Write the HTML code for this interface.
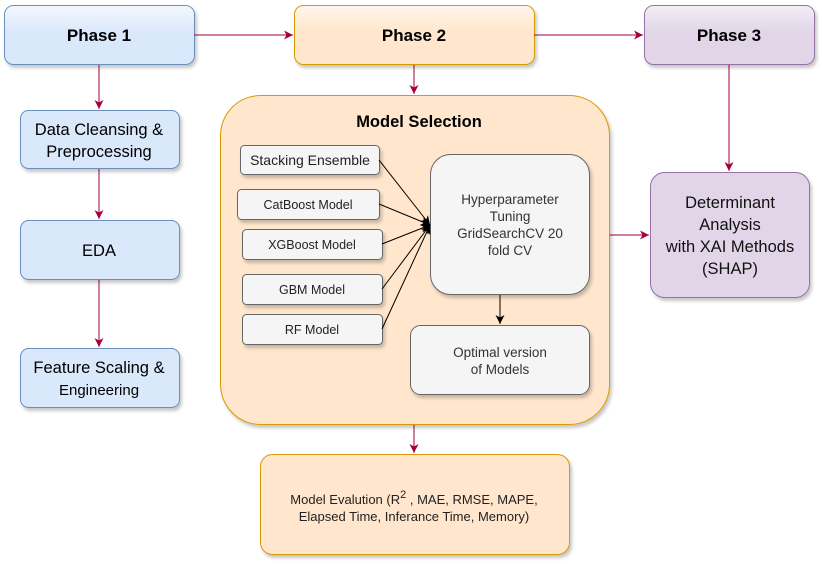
<!DOCTYPE html>
<html><head><meta charset="utf-8"><style>
html,body{margin:0;padding:0;background:#fff;}
svg, svg text{font-family:"Liberation Sans",Arial,Helvetica,sans-serif;}
svg{display:block;}
</style></head><body>
<svg width="822" height="564" viewBox="0 0 822 564" xmlns="http://www.w3.org/2000/svg" font-family="'Liberation Sans', Arial, sans-serif">
<defs>
<filter id="sh" x="-10%" y="-10%" width="130%" height="130%"><feDropShadow dx="2" dy="3" stdDeviation="1.5" flood-color="#000" flood-opacity="0.22"/></filter>
<linearGradient id="gb" x1="0" y1="0" x2="0" y2="1"><stop offset="0" stop-color="#f4f8fe"/><stop offset="0.45" stop-color="#dae8fc"/><stop offset="1" stop-color="#dae8fc"/></linearGradient>
<linearGradient id="go" x1="0" y1="0" x2="0" y2="1"><stop offset="0" stop-color="#fff6ec"/><stop offset="0.45" stop-color="#ffe6cc"/><stop offset="1" stop-color="#ffe6cc"/></linearGradient>
<linearGradient id="gp" x1="0" y1="0" x2="0" y2="1"><stop offset="0" stop-color="#f3eef6"/><stop offset="0.45" stop-color="#e1d5e7"/><stop offset="1" stop-color="#e1d5e7"/></linearGradient>
<marker id="ar" markerWidth="10" markerHeight="10" refX="9" refY="5" orient="auto" markerUnits="userSpaceOnUse"><path d="M0,0.5 L9,5 L0,9.5 L2.5,5 z" fill="#a50040"/></marker>
<marker id="ak" markerWidth="10" markerHeight="10" refX="9" refY="5" orient="auto" markerUnits="userSpaceOnUse"><path d="M0,0.5 L9,5 L0,9.5 L2.5,5 z" fill="#000"/></marker>
</defs>

<rect x="4.5" y="5.5" width="190" height="59" rx="9" fill="url(#gb)" stroke="#6c8ebf" filter="url(#sh)"/>
<text x="99" y="41" text-anchor="middle" font-size="17" font-weight="bold">Phase 1</text>
<rect x="294.5" y="5.5" width="240" height="59" rx="9" fill="url(#go)" stroke="#d79b00" filter="url(#sh)"/>
<text x="414" y="41" text-anchor="middle" font-size="17" font-weight="bold">Phase 2</text>
<rect x="644.5" y="5.5" width="170" height="59" rx="9" fill="url(#gp)" stroke="#9673a6" filter="url(#sh)"/>
<text x="729" y="41" text-anchor="middle" font-size="17" font-weight="bold">Phase 3</text>

<g stroke="#a50040" stroke-width="1" fill="none">
<line x1="194" y1="35" x2="293" y2="35" marker-end="url(#ar)"/>
<line x1="534" y1="35" x2="643" y2="35" marker-end="url(#ar)"/>
<line x1="99" y1="65" x2="99" y2="109" marker-end="url(#ar)"/>
<line x1="99" y1="168" x2="99" y2="219" marker-end="url(#ar)"/>
<line x1="99" y1="279" x2="99" y2="347" marker-end="url(#ar)"/>
<line x1="414" y1="65" x2="414" y2="94" marker-end="url(#ar)"/>
<line x1="729" y1="65" x2="729" y2="171" marker-end="url(#ar)"/>
<line x1="609" y1="235" x2="649" y2="235" marker-end="url(#ar)"/>
<line x1="414" y1="424" x2="414" y2="453" marker-end="url(#ar)"/>
</g>

<rect x="20.5" y="110.5" width="159" height="58" rx="8" fill="#dae8fc" stroke="#6c8ebf" filter="url(#sh)"/>
<text x="99" y="135" text-anchor="middle" font-size="16.5">Data Cleansing &amp;</text>
<text x="99" y="157" text-anchor="middle" font-size="16.5">Preprocessing</text>
<rect x="20.5" y="220.5" width="159" height="59" rx="8" fill="#dae8fc" stroke="#6c8ebf" filter="url(#sh)"/>
<text x="99" y="256" text-anchor="middle" font-size="16.5">EDA</text>
<rect x="20.5" y="348.5" width="159" height="59" rx="8" fill="#dae8fc" stroke="#6c8ebf" filter="url(#sh)"/>
<text x="99" y="373" text-anchor="middle" font-size="16.5">Feature Scaling &amp;</text>
<text x="99" y="395" text-anchor="middle" font-size="15">Engineering</text>

<rect x="220.5" y="95.5" width="389" height="329" rx="40" fill="#ffe6cc" stroke="#d79b00" filter="url(#sh)"/>
<text x="419" y="127" text-anchor="middle" font-size="16.5" font-weight="bold">Model Selection</text>

<g fill="#f5f5f5" stroke="#666" filter="url(#sh)">
<rect x="240.5" y="145.5" width="139" height="29" rx="4"/>
<rect x="237.5" y="189.5" width="142" height="30" rx="4"/>
<rect x="242.5" y="229.5" width="140" height="30" rx="4"/>
<rect x="242.5" y="274.5" width="140" height="30" rx="4"/>
<rect x="242.5" y="314.5" width="140" height="30" rx="4"/>
<rect x="430.5" y="154.5" width="159" height="140" rx="20"/>
<rect x="410.5" y="325.5" width="179" height="69" rx="10"/>
</g>
<g font-size="12.5" text-anchor="middle" fill="#222">
<text x="310" y="165" font-size="14">Stacking Ensemble</text>
<text x="308" y="209">CatBoost Model</text>
<text x="312" y="249">XGBoost Model</text>
<text x="312" y="294">GBM Model</text>
<text x="312" y="334">RF Model</text>
</g>
<g font-size="13.5" text-anchor="middle" fill="#333">
<text x="510" y="204">Hyperparameter</text>
<text x="510" y="221">Tuning</text>
<text x="510" y="238">GridSearchCV 20</text>
<text x="510" y="255">fold CV</text>
<text x="500" y="357">Optimal version</text>
<text x="500" y="374">of Models</text>
</g>
<g stroke="#000" stroke-width="1" fill="none">
<line x1="379" y1="160" x2="430" y2="225" marker-end="url(#ak)"/>
<line x1="379" y1="204" x2="430" y2="225" marker-end="url(#ak)"/>
<line x1="382" y1="244" x2="430" y2="225" marker-end="url(#ak)"/>
<line x1="382" y1="289" x2="430" y2="225" marker-end="url(#ak)"/>
<line x1="382" y1="329" x2="430" y2="225" marker-end="url(#ak)"/>
<line x1="500" y1="295" x2="500" y2="324" marker-end="url(#ak)"/>
</g>

<rect x="650.5" y="172.5" width="159" height="125" rx="14" fill="#e1d5e7" stroke="#9673a6" filter="url(#sh)"/>
<g font-size="16.5" text-anchor="middle" fill="#111">
<text x="730" y="208">Determinant</text>
<text x="730" y="230">Analysis</text>
<text x="730" y="252">with XAI Methods</text>
<text x="730" y="274">(SHAP)</text>
</g>

<rect x="260.5" y="454.5" width="309" height="100" rx="12" fill="#ffe6cc" stroke="#d79b00" filter="url(#sh)"/>
<g font-size="13" text-anchor="middle" fill="#222">
<text x="414" y="504">Model Evalution (R<tspan dy="-6" font-size="11">2</tspan><tspan dy="6"> ,  MAE, RMSE, MAPE,</tspan></text>
<text x="414" y="521">Elapsed Time, Inferance Time, Memory)</text>
</g>
</svg>
</body></html>
